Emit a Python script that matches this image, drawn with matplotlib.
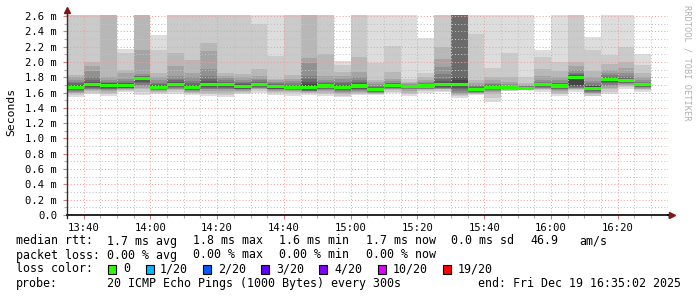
import matplotlib
matplotlib.use("Agg")
import matplotlib.pyplot as plt
from matplotlib.ticker import MultipleLocator, FixedLocator

# ---------------- data ----------------
# bar start times (minutes after 13:00), one bar per 300 s
bar_start_min = [35 + 5 * i for i in range(35)]
x_tick_labels = ["13:40", "14:00", "14:20", "14:40", "15:00", "15:20",
                 "15:40", "16:00", "16:20"]
x_tick_min = [40, 60, 80, 100, 120, 140, 160, 180, 200]
y_tick_vals = [0.0, 0.2, 0.4, 0.6, 0.8, 1.0, 1.2, 1.4, 1.6, 1.8, 2.0, 2.2, 2.4, 2.6]
y_tick_labels = ["0.0", "0.2 m", "0.4 m", "0.6 m", "0.8 m", "1.0 m", "1.2 m",
                 "1.4 m", "1.6 m", "1.8 m", "2.0 m", "2.2 m", "2.4 m", "2.6 m"]

# median rtt per bar (ms)
median_ms = [1.67, 1.70, 1.69, 1.69, 1.78, 1.67, 1.71, 1.67, 1.70, 1.70,
             1.68, 1.71, 1.68, 1.67, 1.67, 1.685, 1.67, 1.685, 1.64, 1.695,
             1.68, 1.685, 1.70, 1.71, 1.64, 1.67, 1.665, 1.655, 1.70, 1.685,
             1.80, 1.655, 1.765, 1.76, 1.70]

# sorted ping rtts (ms): lower ten (ping 1..10) and upper ten (ping 11..20); 3.0 = off scale
smoke_lo = [
    [1.54, 1.57, 1.59, 1.60, 1.61, 1.62, 1.63, 1.64, 1.65, 1.66],
    [1.58, 1.60, 1.62, 1.63, 1.64, 1.65, 1.66, 1.67, 1.68, 1.69],
    [1.55, 1.58, 1.60, 1.62, 1.63, 1.64, 1.65, 1.66, 1.67, 1.68],
    [1.61, 1.62, 1.63, 1.64, 1.65, 1.655, 1.66, 1.665, 1.67, 1.68],
    [1.57, 1.61, 1.64, 1.66, 1.68, 1.70, 1.72, 1.74, 1.76, 1.775],
    [1.58, 1.60, 1.61, 1.62, 1.63, 1.635, 1.64, 1.645, 1.65, 1.66],
    [1.58, 1.61, 1.63, 1.64, 1.65, 1.66, 1.67, 1.68, 1.69, 1.70],
    [1.57, 1.59, 1.60, 1.61, 1.62, 1.63, 1.635, 1.64, 1.65, 1.66],
    [1.55, 1.58, 1.60, 1.62, 1.64, 1.65, 1.66, 1.67, 1.68, 1.69],
    [1.54, 1.57, 1.60, 1.62, 1.64, 1.65, 1.66, 1.67, 1.68, 1.69],
    [1.58, 1.60, 1.61, 1.62, 1.63, 1.64, 1.645, 1.65, 1.66, 1.67],
    [1.60, 1.62, 1.64, 1.65, 1.66, 1.665, 1.67, 1.68, 1.69, 1.70],
    [1.57, 1.59, 1.61, 1.62, 1.63, 1.64, 1.645, 1.65, 1.66, 1.67],
    [1.56, 1.59, 1.61, 1.62, 1.63, 1.635, 1.64, 1.645, 1.65, 1.66],
    [1.57, 1.59, 1.60, 1.61, 1.615, 1.62, 1.625, 1.63, 1.64, 1.65],
    [1.55, 1.58, 1.60, 1.62, 1.63, 1.64, 1.65, 1.66, 1.67, 1.675],
    [1.54, 1.56, 1.58, 1.60, 1.61, 1.62, 1.63, 1.64, 1.65, 1.66],
    [1.57, 1.58, 1.60, 1.61, 1.62, 1.63, 1.64, 1.65, 1.66, 1.67],
    [1.57, 1.575, 1.58, 1.59, 1.60, 1.605, 1.61, 1.615, 1.62, 1.63],
    [1.59, 1.61, 1.63, 1.64, 1.65, 1.66, 1.665, 1.67, 1.68, 1.69],
    [1.55, 1.58, 1.60, 1.62, 1.64, 1.65, 1.66, 1.67, 1.675, 1.68],
    [1.60, 1.62, 1.63, 1.64, 1.645, 1.65, 1.655, 1.66, 1.67, 1.68],
    [1.61, 1.62, 1.64, 1.645, 1.65, 1.66, 1.665, 1.67, 1.68, 1.69],
    [1.53, 1.55, 1.57, 1.58, 1.60, 1.62, 1.64, 1.66, 1.68, 1.70],
    [1.57, 1.575, 1.58, 1.59, 1.60, 1.605, 1.61, 1.615, 1.62, 1.63],
    [1.48, 1.53, 1.58, 1.61, 1.62, 1.63, 1.64, 1.65, 1.66, 1.665],
    [1.62, 1.625, 1.63, 1.635, 1.64, 1.645, 1.65, 1.655, 1.66, 1.665],
    [1.63, 1.63, 1.635, 1.64, 1.64, 1.645, 1.645, 1.65, 1.65, 1.655],
    [1.61, 1.63, 1.64, 1.65, 1.66, 1.665, 1.67, 1.68, 1.69, 1.695],
    [1.55, 1.58, 1.60, 1.62, 1.63, 1.64, 1.65, 1.66, 1.67, 1.675],
    [1.61, 1.63, 1.64, 1.65, 1.66, 1.665, 1.67, 1.68, 1.70, 1.79],
    [1.55, 1.56, 1.58, 1.59, 1.60, 1.61, 1.62, 1.63, 1.635, 1.64],
    [1.58, 1.61, 1.64, 1.66, 1.68, 1.70, 1.72, 1.74, 1.75, 1.755],
    [1.65, 1.67, 1.68, 1.70, 1.71, 1.72, 1.73, 1.74, 1.745, 1.75],
    [1.61, 1.63, 1.64, 1.65, 1.66, 1.67, 1.675, 1.68, 1.685, 1.69],
]
smoke_hi = [
    [1.68, 1.69, 1.70, 1.72, 1.74, 1.76, 1.80, 1.83, 3.0, 3.0],
    [1.72, 1.73, 1.74, 1.76, 1.80, 1.88, 1.95, 2.00, 3.0, 3.0],
    [1.70, 1.71, 1.72, 1.73, 1.74, 1.76, 1.80, 3.0, 3.0, 3.0],
    [1.70, 1.71, 1.72, 1.73, 1.75, 1.78, 1.85, 1.89, 2.12, 2.17],
    [1.785, 1.79, 1.80, 1.81, 1.82, 1.84, 2.15, 3.0, 3.0, 3.0],
    [1.68, 1.69, 1.70, 1.71, 1.73, 1.76, 1.80, 1.86, 2.16, 2.35],
    [1.72, 1.73, 1.74, 1.76, 1.78, 1.82, 1.95, 2.11, 3.0, 3.0],
    [1.68, 1.69, 1.70, 1.72, 1.75, 1.80, 1.86, 2.03, 3.0, 3.0],
    [1.71, 1.73, 1.75, 1.78, 1.82, 1.91, 2.14, 2.25, 3.0, 3.0],
    [1.71, 1.72, 1.73, 1.74, 1.76, 1.79, 1.82, 1.86, 3.0, 3.0],
    [1.69, 1.70, 1.71, 1.72, 1.74, 1.77, 1.80, 1.84, 3.0, 3.0],
    [1.71, 1.72, 1.73, 1.74, 1.76, 1.78, 1.82, 1.91, 2.50, 3.0],
    [1.69, 1.695, 1.70, 1.71, 1.72, 1.74, 1.76, 1.78, 2.08, 3.0],
    [1.68, 1.685, 1.69, 1.70, 1.72, 1.75, 1.78, 1.83, 3.0, 3.0],
    [1.69, 1.71, 1.74, 1.78, 1.82, 1.98, 2.05, 3.0, 3.0, 3.0],
    [1.695, 1.70, 1.71, 1.72, 1.74, 1.77, 1.82, 2.10, 3.0, 3.0],
    [1.68, 1.69, 1.70, 1.72, 1.74, 1.78, 1.82, 1.87, 1.96, 2.01],
    [1.70, 1.71, 1.72, 1.74, 1.76, 1.80, 1.87, 2.07, 3.0, 3.0],
    [1.65, 1.655, 1.665, 1.675, 1.69, 1.71, 1.74, 1.77, 1.98, 3.0],
    [1.70, 1.705, 1.71, 1.72, 1.73, 1.75, 1.78, 1.87, 2.21, 3.0],
    [1.68, 1.685, 1.69, 1.695, 1.70, 1.71, 1.72, 1.74, 1.78, 3.0],
    [1.69, 1.695, 1.70, 1.71, 1.72, 1.74, 1.76, 1.80, 1.85, 2.31],
    [1.71, 1.72, 1.75, 1.78, 1.84, 1.94, 2.04, 2.20, 3.0, 3.0],
    [1.72, 1.76, 1.80, 3.0, 3.0, 3.0, 3.0, 3.0, 3.0, 3.0],
    [1.65, 1.655, 1.66, 1.67, 1.68, 1.70, 1.73, 1.76, 2.37, 3.0],
    [1.675, 1.68, 1.69, 1.70, 1.71, 1.73, 1.76, 1.80, 1.92, 3.0],
    [1.665, 1.67, 1.675, 1.68, 1.69, 1.71, 1.74, 1.80, 2.11, 3.0],
    [1.66, 1.665, 1.67, 1.675, 1.68, 1.69, 1.70, 1.72, 1.80, 3.0],
    [1.70, 1.705, 1.71, 1.72, 1.74, 1.77, 1.82, 1.91, 2.06, 2.16],
    [1.695, 1.70, 1.71, 1.72, 1.73, 1.76, 1.80, 1.88, 2.00, 3.0],
    [1.81, 1.82, 1.83, 1.84, 1.86, 1.90, 1.95, 2.00, 3.0, 3.0],
    [1.67, 1.68, 1.69, 1.70, 1.72, 1.75, 1.80, 1.88, 2.16, 2.32],
    [1.775, 1.78, 1.79, 1.80, 1.83, 1.86, 1.90, 1.97, 2.09, 3.0],
    [1.77, 1.775, 1.78, 1.79, 1.82, 1.86, 1.92, 2.00, 2.20, 3.0],
    [1.70, 1.705, 1.71, 1.72, 1.74, 1.77, 1.80, 1.85, 1.96, 2.10],
]

# legend texts
legend_rows = [
    [("median rtt:", 16), ("1.7 ms avg", 107.3), ("1.8 ms max", 193.3),
     ("1.6 ms min", 279.3), ("1.7 ms now", 365.7), ("0.0 ms sd", 451),
     ("46.9", 530), ("am/s", 579.3)],
    [("packet loss:", 16), ("0.00 % avg", 107.3), ("0.00 % max", 193.3),
     ("0.00 % min", 279.3), ("0.00 % now", 365.7)],
    [("loss color:", 16)],
    [("probe:", 16), ("20 ICMP Echo Pings (1000 Bytes) every 300s", 107.3),
     ("end: Fri Dec 19 16:35:02 2025", 478.3)],
]
loss_labels = ["0", "1/20", "2/20", "3/20", "4/20", "10/20", "19/20"]
loss_colors = ["#26ff00", "#00b8ff", "#0059ff", "#5e00ff", "#7e00ff", "#dd00ff", "#ff0000"]
loss_box_x = [108.3, 145.7, 203.3, 261.0, 319.3, 378.3, 442.7]
loss_text_x = [123.3, 160.0, 218.3, 276.0, 334.3, 392.3, 457.3]

# ---------------- drawing ----------------
W, H = 697, 297
fig = plt.figure(figsize=(W / 100, H / 100), dpi=100)
fig.patch.set_facecolor("white")
mono = "DejaVu Sans Mono"

ax_left, ax_right, ax_top, ax_bot = 67, 668, 15, 215
ax = fig.add_axes([ax_left / W, 1 - ax_bot / H, (ax_right - ax_left) / W, (ax_bot - ax_top) / H])
ax.set_facecolor("white")
x0 = 35 + 2 / 60
ax.set_xlim(x0, x0 + 180)
ax.set_ylim(0, 2.613)

half = 10
for b, start in enumerate(bar_start_min):
    lo = smoke_lo[b]
    hi = smoke_hi[b]
    for i in range(half):
        g = int(190 / half * (half - 1 - i)) + 50
        col = "#%02x%02x%02x" % (g, g, g)
        bottom = lo[i]
        top = hi[half - 1 - i]
        ax.bar(start, top - bottom, width=5, bottom=bottom, align="edge",
               color=col, linewidth=0, antialiased=False, zorder=1)
    m = median_ms[b]
    ax.bar(start, 0.04, width=5, bottom=m - 0.02, align="edge",
           color=loss_colors[0], linewidth=0, antialiased=False, zorder=4)

# grid
ax.xaxis.set_major_locator(FixedLocator(x_tick_min))
ax.xaxis.set_minor_locator(MultipleLocator(5))
ax.yaxis.set_major_locator(FixedLocator(y_tick_vals))
ax.yaxis.set_minor_locator(MultipleLocator(0.1))
ax.set_axisbelow(False)
ax.grid(which="minor", color="#c4c4c4", linestyle=(0, (1, 2)), linewidth=0.75)
ax.grid(which="major", color="#eea0a0", linestyle=(0, (1, 2)), linewidth=0.75)

ax.set_xticklabels(x_tick_labels, fontfamily=mono, fontsize=7.6)
ax.set_yticklabels(y_tick_labels, fontfamily=mono, fontsize=7.6)
ax.tick_params(axis="x", which="major", length=3, width=0.8, color="#d08080", pad=3)
ax.tick_params(axis="x", which="minor", length=2, width=0.8, color="#b0b0b0")
ax.tick_params(axis="y", which="major", length=3, width=0.8, color="#d08080", pad=4)
ax.tick_params(axis="y", which="minor", length=2, width=0.8, color="#b0b0b0")

for s in ["top", "right"]:
    ax.spines[s].set_visible(False)
ax.spines["left"].set_color("#303030")
ax.spines["bottom"].set_color("black")
ax.spines["left"].set_linewidth(1.0)
ax.spines["bottom"].set_linewidth(1.2)
ax.spines["left"].set_zorder(5)
ax.spines["bottom"].set_zorder(5)

# axis arrows and small axis overhangs
fig.add_artist(plt.Line2D([ax_left / W, ax_left / W], [1 - ax_top / H, 1 - 11 / H],
                          color="#303030", linewidth=1.0))
fig.add_artist(plt.Line2D([ax_left / W, ax_left / W], [1 - ax_bot / H, 1 - 218 / H],
                          color="#303030", linewidth=1.0))
fig.add_artist(plt.Line2D([ax_left / W], [1 - 9.5 / H], marker="^", markersize=4.5,
                          color="#801818", linestyle="none"))
fig.add_artist(plt.Line2D([ax_right / W, 670 / W], [1 - ax_bot / H, 1 - ax_bot / H],
                          color="black", linewidth=1.2))
fig.add_artist(plt.Line2D([672 / W], [1 - ax_bot / H], marker=">", markersize=4.5,
                          color="#801818", linestyle="none"))

# y label
fig.text(11 / W, 1 - 112 / H, "Seconds", rotation=90, ha="center", va="center",
         fontfamily=mono, fontsize=8.2, color="black")

# watermark
fig.text(687 / W, 1 - 5 / H, "RRDTOOL / TOBI OETIKER", rotation=270, ha="center", va="top",
         fontfamily=mono, fontsize=6.2, color="#b0b0b0")

# legend
row_y = [241, 255, 269, 283.3]
for r, row in enumerate(legend_rows):
    for txt, xp in row:
        fig.text(xp / W, 1 - row_y[r] / H, txt, ha="left", va="center",
                 fontfamily=mono, fontsize=8.4, color="black")
for lab, col, bx, tx in zip(loss_labels, loss_colors, loss_box_x, loss_text_x):
    fig.add_artist(plt.Rectangle((bx / W, 1 - (row_y[2] + 4.5) / H), 8 / W, 8.5 / H,
                                 facecolor=col, edgecolor="black", linewidth=0.8))
    fig.text(tx / W, 1 - row_y[2] / H, lab, ha="left", va="center",
             fontfamily=mono, fontsize=8.4, color="black")

fig.savefig("out.png", dpi=100, facecolor="white")
